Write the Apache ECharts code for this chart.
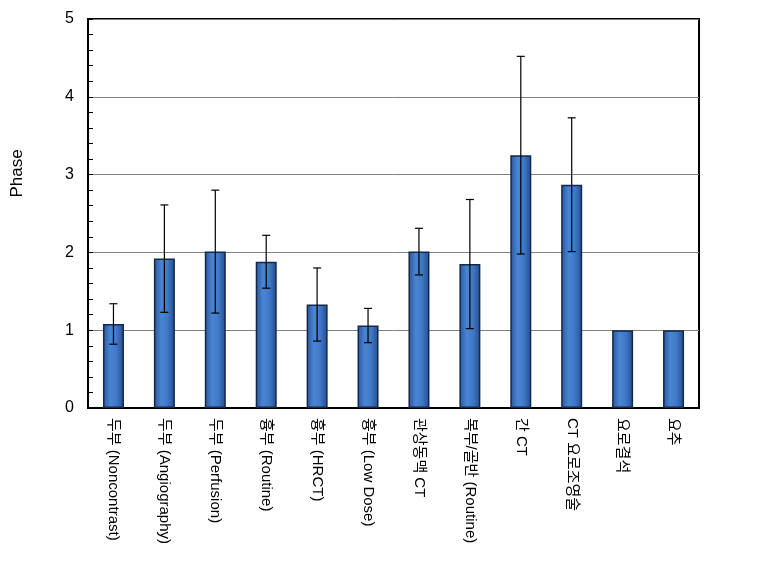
<!DOCTYPE html>
<html><head><meta charset="utf-8">
<script src="https://cdn.jsdelivr.net/npm/echarts@6/dist/echarts.min.js"></script>
<style>html,body{margin:0;padding:0;background:#fff}#c{width:764px;height:574px}</style>
</head><body><div id="c"></div>
<script>
const categories = ['두부 (Noncontrast)','두부 (Angiography)','두부 (Perfusion)','흉부 (Routine)','흉부 (HRCT)','흉부 (Low Dose)','관상동맥 CT','복부/골반 (Routine)','간 CT','CT 요로조영술','요로결석','요추'];
const means = [1.08, 1.92, 2.01, 1.88, 1.33, 1.06, 2.01, 1.85, 3.25, 2.87, 1.00, 1.00];
const errors = [0.26, 0.69, 0.79, 0.34, 0.47, 0.22, 0.30, 0.83, 1.27, 0.86, 0, 0];
const yTicks = [0, 1, 2, 3, 4, 5];

const chart = echarts.init(document.getElementById('c'));
const font = '"Liberation Sans", Arial, "Noto Sans CJK KR", sans-serif';
chart.setOption({
  animation: false,
  grid: {left: 88, right: 65, top: 19, bottom: 166, show: true, borderColor: '#000', borderWidth: 2, backgroundColor: 'transparent'},
  xAxis: {
    type: 'category', data: categories,
    axisLine: {lineStyle: {color: '#000', width: 2}},
    axisTick: {inside: true, length: 5, lineStyle: {color: '#888'}},
    axisLabel: {rotate: -90, fontSize: 15, color: '#000', fontFamily: font, margin: 10}
  },
  yAxis: {
    type: 'value', min: yTicks[0], max: yTicks[yTicks.length-1], interval: 1,
    name: 'Phase', nameLocation: 'middle', nameGap: 62, nameRotate: 90,
    nameTextStyle: {fontSize: 17, color: '#000', fontFamily: font, padding: [0, 0, 0, 80]},
    axisLine: {show: true, lineStyle: {color: '#000', width: 2}},
    axisTick: {show: true, inside: true, length: 5, lineStyle: {color: '#000'}},
    minorTick: {show: true, splitNumber: 5, length: 5, lineStyle: {color: '#000'}},
    axisLabel: {fontSize: 16, color: '#000', fontFamily: font, margin: 14},
    splitLine: {lineStyle: {color: '#808080', width: 1}}
  },
  series: [
    {
      type: 'bar', data: means, barWidth: 21,
      itemStyle: {
        color: new echarts.graphic.LinearGradient(0, 0, 1, 0, [
          {offset: 0, color: '#2a559a'},
          {offset: 0.35, color: '#4a85d3'},
          {offset: 0.65, color: '#3f78c6'},
          {offset: 1, color: '#244c8c'}
        ]),
        borderColor: '#14284a', borderWidth: 1.5
      }
    },
    {
      type: 'custom',
      data: means.map((m, i) => [i, m - errors[i], m + errors[i]]),
      renderItem: function (params, api) {
        const i = api.value(0);
        if (api.value(2) - api.value(1) <= 0) return null;
        const lo = api.coord([i, api.value(1)]);
        const hi = api.coord([i, api.value(2)]);
        const hw = 4;
        const st = {stroke: '#000', lineWidth: 1.2};
        return {type: 'group', children: [
          {type: 'line', shape: {x1: lo[0], y1: lo[1], x2: hi[0], y2: hi[1]}, style: st},
          {type: 'line', shape: {x1: lo[0]-hw, y1: lo[1], x2: lo[0]+hw, y2: lo[1]}, style: st},
          {type: 'line', shape: {x1: hi[0]-hw, y1: hi[1], x2: hi[0]+hw, y2: hi[1]}, style: st}
        ]};
      },
      z: 10
    }
  ]
});
</script></body></html>
